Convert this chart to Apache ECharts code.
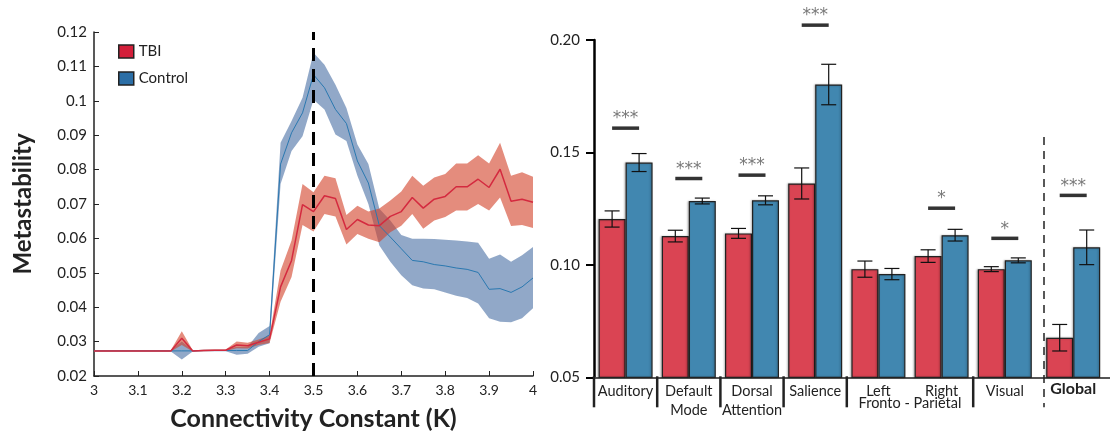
<!DOCTYPE html>
<html>
<head>
<meta charset="utf-8">
<script src="https://cdn.jsdelivr.net/npm/echarts@6/dist/echarts.min.js"></script>
<style>
  html, body { margin: 0; padding: 0; background: #fff; }
  #main { width: 1110px; height: 436px; }
</style>
</head>
<body>
<div id="main"></div>
<script>
// left panel: metastability vs connectivity constant K
const kValues = [3.0, 3.025, 3.05, 3.075, 3.1, 3.125, 3.15, 3.175, 3.2, 3.225, 3.25, 3.275, 3.3, 3.325, 3.35, 3.375, 3.4,
  3.425, 3.45, 3.475, 3.5, 3.525, 3.55, 3.575, 3.6, 3.625, 3.65, 3.675, 3.7, 3.725, 3.75, 3.775, 3.8, 3.825, 3.85, 3.875, 3.9, 3.925, 3.95, 3.975, 4.0];

const tbiMean = [0.0273, 0.0273, 0.0273, 0.0273, 0.0273, 0.0273, 0.0273, 0.0273, 0.0310, 0.0273, 0.0274, 0.0275, 0.0275, 0.0290, 0.0288, 0.0298, 0.0308,
  0.0459, 0.0536, 0.0698, 0.0678, 0.0724, 0.0716, 0.0626, 0.0655, 0.0639, 0.0637, 0.0664, 0.0678, 0.0719, 0.0688, 0.0714, 0.0722, 0.0750, 0.0750, 0.0772, 0.0748, 0.0801, 0.0708, 0.0714, 0.0705];
const tbiUpper = [0.0275, 0.0275, 0.0275, 0.0275, 0.0275, 0.0275, 0.0275, 0.0275, 0.0330, 0.0275, 0.0276, 0.0277, 0.0277, 0.0300, 0.0297, 0.0306, 0.0318,
  0.0507, 0.0594, 0.0758, 0.0734, 0.0782, 0.0775, 0.0668, 0.0695, 0.0678, 0.0687, 0.0710, 0.0736, 0.0782, 0.0753, 0.0777, 0.0787, 0.0818, 0.0818, 0.0842, 0.0818, 0.0878, 0.0782, 0.0792, 0.0779];
const tbiLower = [0.0271, 0.0271, 0.0271, 0.0271, 0.0271, 0.0271, 0.0271, 0.0271, 0.0290, 0.0271, 0.0272, 0.0273, 0.0273, 0.0281, 0.0280, 0.0290, 0.0296,
  0.0416, 0.0488, 0.0639, 0.0620, 0.0671, 0.0664, 0.0582, 0.0613, 0.0599, 0.0589, 0.0618, 0.0637, 0.0671, 0.0628, 0.0652, 0.0662, 0.0681, 0.0681, 0.0700, 0.0681, 0.0719, 0.0636, 0.0639, 0.0630];

const ctlMean = [0.0273, 0.0273, 0.0273, 0.0273, 0.0273, 0.0273, 0.0273, 0.0273, 0.0273, 0.0273, 0.0274, 0.0274, 0.0274, 0.0274, 0.0274, 0.0300, 0.0320,
  0.0816, 0.0907, 0.0965, 0.1076, 0.1038, 0.0975, 0.0934, 0.0825, 0.0761, 0.0637, 0.0604, 0.0570, 0.0536, 0.0532, 0.0524, 0.0520, 0.0514, 0.0510, 0.0501, 0.0452, 0.0454, 0.0443, 0.0459, 0.0485];
const ctlUpper = [0.0275, 0.0275, 0.0275, 0.0275, 0.0275, 0.0275, 0.0275, 0.0275, 0.0300, 0.0275, 0.0276, 0.0276, 0.0276, 0.0285, 0.0285, 0.0325, 0.0345,
  0.0878, 0.0941, 0.1009, 0.1140, 0.1105, 0.1047, 0.0979, 0.0873, 0.0816, 0.0686, 0.0652, 0.0610, 0.0599, 0.0599, 0.0598, 0.0596, 0.0594, 0.0591, 0.0587, 0.0541, 0.0553, 0.0532, 0.0551, 0.0575];
const ctlLower = [0.0271, 0.0271, 0.0271, 0.0271, 0.0271, 0.0271, 0.0271, 0.0271, 0.0248, 0.0271, 0.0272, 0.0272, 0.0272, 0.0262, 0.0265, 0.0285, 0.0295,
  0.0758, 0.0854, 0.0897, 0.1003, 0.0975, 0.0902, 0.0883, 0.0782, 0.0700, 0.0579, 0.0532, 0.0493, 0.0464, 0.0454, 0.0452, 0.0443, 0.0433, 0.0427, 0.0411, 0.0368, 0.0358, 0.0356, 0.0368, 0.0397];

const kOptimal = 3.5;

// right panel: metastability per network
const networks = ['Auditory', 'Default\nMode', 'Dorsal\nAttention', 'Salience', 'Left', 'Right', 'Visual', 'Global'];
const tbiNet = [0.1204, 0.1128, 0.1140, 0.1362, 0.0981, 0.1039, 0.0981, 0.0676];
const tbiNetErr = [0.0036, 0.0026, 0.0022, 0.0069, 0.0036, 0.0028, 0.0011, 0.0059];
const ctlNet = [0.1455, 0.1284, 0.1287, 0.1802, 0.0959, 0.1132, 0.1020, 0.1078];
const ctlNetErr = [0.0040, 0.0013, 0.0020, 0.0090, 0.0025, 0.0026, 0.0011, 0.0077];
const sigLabel = ['***', '***', '***', '***', '', '*', '*', '***'];
const sigLevel = [0.1608, 0.1384, 0.1399, 0.2066, null, 0.1252, 0.1118, 0.1309];

const RED = '#DA4453', BLUE = '#4187B0';
const FONT = 'Lato, "DejaVu Sans", sans-serif';

const chart = echarts.init(document.getElementById('main'));

function pairs(xs, ys) { return xs.map((x, i) => [x, ys[i]]); }

// shaded band between lower and upper as one polygon
function band(up, lo, fill, z) {
  return {
    type: 'custom', xAxisIndex: 0, yAxisIndex: 0, silent: true, z: z,
    data: [[kValues[0], lo[0], up[0]]],
    renderItem: function (params, api) {
      const top = kValues.map((x, i) => api.coord([x, up[i]]));
      const bot = kValues.map((x, i) => api.coord([x, lo[i]])).reverse();
      return { type: 'polygon', shape: { points: top.concat(bot) }, style: { fill: fill } };
    }
  };
}

function errorBars(means, errs, xIdx, shift) {
  return {
    type: 'custom', xAxisIndex: xIdx, yAxisIndex: xIdx, z: 5, silent: true,
    data: means.map((m, i) => [i, m - errs[i], m + errs[i]]),
    renderItem: function (params, api) {
      const hi = api.coord([api.value(0), api.value(2)]);
      const lo = api.coord([api.value(0), api.value(1)]);
      const x = hi[0] + shift;
      const style = { stroke: '#111', lineWidth: 1.2 };
      return {
        type: 'group', children: [
          { type: 'line', shape: { x1: x, y1: hi[1], x2: x, y2: lo[1] }, style: style },
          { type: 'line', shape: { x1: x - 7.5, y1: hi[1], x2: x + 7.5, y2: hi[1] }, style: style },
          { type: 'line', shape: { x1: x - 7.5, y1: lo[1], x2: x + 7.5, y2: lo[1] }, style: style }
        ]
      };
    }
  };
}

function sigMarks(idxs, xIdx) {
  return {
    type: 'scatter', xAxisIndex: xIdx, yAxisIndex: xIdx, clip: false, silent: true, z: 6,
    symbol: 'rect', symbolSize: [27, 3.5],
    itemStyle: { color: '#000' },
    data: idxs.map(i => ({ value: [xIdx === 1 ? i : 0, sigLevel[i]], label: { formatter: sigLabel[i] } })),
    label: { show: true, position: 'top', distance: -1, color: '#555', fontSize: 17, fontFamily: '"DejaVu Sans", sans-serif' }
  };
}

const bandW = 63.2, leftA = 594, topR = 40, hR = 337.3;
const globalCenter = 1080.3, dashX = 1044;

const option = {
  animation: false,
  backgroundColor: '#fff',
  textStyle: { fontFamily: FONT },
  legend: {
    data: [
      { name: 'TBI', icon: 'rect', itemStyle: { color: '#D31F3A', borderColor: '#222', borderWidth: 1.5 } },
      { name: 'Control', icon: 'rect', itemStyle: { color: '#2B6EA6', borderColor: '#222', borderWidth: 1.5 } }
    ],
    orient: 'vertical', left: 113, top: 39, itemWidth: 15, itemHeight: 13, itemGap: 12,
    textStyle: { fontSize: 15, color: '#222', fontFamily: FONT }
  },
  grid: [
    { left: 94, top: 32, width: 439, height: 346 },
    { left: leftA, top: topR, width: bandW * 7, height: hR },
    { left: leftA + bandW * 7, top: topR, width: 2 * (globalCenter - leftA - bandW * 7), height: hR }
  ],
  xAxis: [
    {
      gridIndex: 0, type: 'value', min: 3, max: 4, interval: 0.1,
      name: 'Connectivity Constant (K)', nameLocation: 'middle', nameGap: 30,
      nameTextStyle: { fontSize: 25, fontWeight: 'bold', color: '#222', fontFamily: FONT },
      axisLine: { lineStyle: { color: '#222', width: 1.5 } },
      axisTick: { inside: true, length: 5, lineStyle: { color: '#222' } },
      axisLabel: { fontSize: 14, color: '#222', margin: 7 },
      splitLine: { show: false }
    },
    {
      gridIndex: 1, type: 'category', data: networks.slice(0, 7),
      axisLine: { lineStyle: { color: '#555', width: 2 } },
      axisTick: { show: false },
      axisLabel: { fontSize: 14.5, color: '#222', margin: 5, lineHeight: 19, interval: 0 }
    },
    {
      gridIndex: 2, type: 'category', data: networks.slice(7),
      axisLine: { lineStyle: { color: '#555', width: 2 } },
      axisTick: { show: false },
      axisLabel: { fontSize: 16, fontWeight: 'bold', color: '#222', margin: 4 }
    }
  ],
  yAxis: [
    {
      gridIndex: 0, type: 'value', min: 0.02, max: 0.12, interval: 0.01,
      name: 'Metastability', nameLocation: 'middle', nameGap: 59,
      nameTextStyle: { fontSize: 24, fontWeight: 'bold', color: '#222', fontFamily: FONT },
      axisLine: { show: true, lineStyle: { color: '#222', width: 1.5 } },
      axisTick: { show: true, inside: true, length: 5, lineStyle: { color: '#222' } },
      axisLabel: { fontSize: 15, color: '#222', margin: 7 },
      splitLine: { show: false }
    },
    {
      gridIndex: 1, type: 'value', min: 0.05, max: 0.2, interval: 0.05,
      axisLine: { show: true, lineStyle: { color: '#000', width: 2.5 } },
      axisTick: { show: true, length: 8, lineStyle: { color: '#000', width: 2 } },
      axisLabel: { fontSize: 15, color: '#222', margin: 14, formatter: v => v.toFixed(2) },
      splitLine: { show: false }
    },
    {
      gridIndex: 2, type: 'value', min: 0.05, max: 0.2, interval: 0.05,
      axisLine: { show: false }, axisTick: { show: false }, axisLabel: { show: false },
      splitLine: { show: false }
    }
  ],
  series: [
    band(ctlUpper, ctlLower, 'rgba(72,110,163,0.6)', 1),
    band(tbiUpper, tbiLower, 'rgba(210,63,38,0.6)', 2),
    { name: 'Control', type: 'line', xAxisIndex: 0, yAxisIndex: 0, data: pairs(kValues, ctlMean),
      symbol: 'none', z: 3, lineStyle: { color: '#2A78B0', width: 1 }, itemStyle: { color: '#2B6EA6' },
      markLine: {
        silent: true, symbol: ['none', 'none'], label: { show: false },
        lineStyle: { color: '#000', width: 3, type: [13, 8] },
        data: [{ xAxis: kOptimal }]
      } },
    { name: 'TBI', type: 'line', xAxisIndex: 0, yAxisIndex: 0, data: pairs(kValues, tbiMean),
      symbol: 'none', z: 4, lineStyle: { color: '#D42A3F', width: 1.5 }, itemStyle: { color: '#D31F3A' } },

    // network bars
    { type: 'bar', xAxisIndex: 1, yAxisIndex: 1, data: tbiNet.slice(0, 7), barWidth: 27, barGap: '0%',
      itemStyle: { color: RED, borderColor: '#222', borderWidth: 1.2, shadowColor: 'rgba(0,0,0,0.25)', shadowBlur: 2, shadowOffsetX: -1 } },
    { type: 'bar', xAxisIndex: 1, yAxisIndex: 1, data: ctlNet.slice(0, 7), barWidth: 27, barGap: '0%',
      itemStyle: { color: BLUE, borderColor: '#222', borderWidth: 1.2, shadowColor: 'rgba(0,0,0,0.25)', shadowBlur: 2, shadowOffsetX: -1 } },
    { type: 'bar', xAxisIndex: 2, yAxisIndex: 2, data: tbiNet.slice(7), barWidth: 27, barGap: '0%',
      itemStyle: { color: RED, borderColor: '#222', borderWidth: 1.2, shadowColor: 'rgba(0,0,0,0.25)', shadowBlur: 2, shadowOffsetX: -1 } },
    { type: 'bar', xAxisIndex: 2, yAxisIndex: 2, data: ctlNet.slice(7), barWidth: 27, barGap: '0%',
      itemStyle: { color: BLUE, borderColor: '#222', borderWidth: 1.2, shadowColor: 'rgba(0,0,0,0.25)', shadowBlur: 2, shadowOffsetX: -1 } },
    errorBars(tbiNet.slice(0, 7), tbiNetErr.slice(0, 7), 1, -13.5),
    errorBars(ctlNet.slice(0, 7), ctlNetErr.slice(0, 7), 1, 13.5),
    errorBars(tbiNet.slice(7), tbiNetErr.slice(7), 2, -13.5),
    errorBars(ctlNet.slice(7), ctlNetErr.slice(7), 2, 13.5),
    sigMarks([0, 1, 2, 3, 5, 6], 1),
    sigMarks([7], 2)
  ],
  graphic: []
};

// group separators under the category axis, plus the dashed divider before Global
const axisY = topR + hR;
const breaks = [0, 1, 2, 3, 4, 6];
breaks.forEach(function (k) {
  option.graphic.push({
    type: 'line', silent: true, z: 10,
    shape: { x1: leftA + k * bandW, y1: axisY - 1, x2: leftA + k * bandW, y2: axisY + 30 },
    style: { stroke: '#222', lineWidth: 2.5 }
  });
});
option.graphic.push({
  type: 'line', silent: true, z: 10,
  shape: { x1: dashX, y1: 137, x2: dashX, y2: axisY + 30 },
  style: { stroke: '#222', lineWidth: 1.5, lineDash: [8, 6] }
});
option.graphic.push({
  type: 'text', silent: true, z: 10,
  x: leftA + 5 * bandW, y: axisY + 26,
  style: { text: 'Fronto - Parietal', fontSize: 14.5, fontFamily: FONT, fill: '#222', align: 'center', verticalAlign: 'middle' }
});

chart.setOption(option);
</script>
</body>
</html>
